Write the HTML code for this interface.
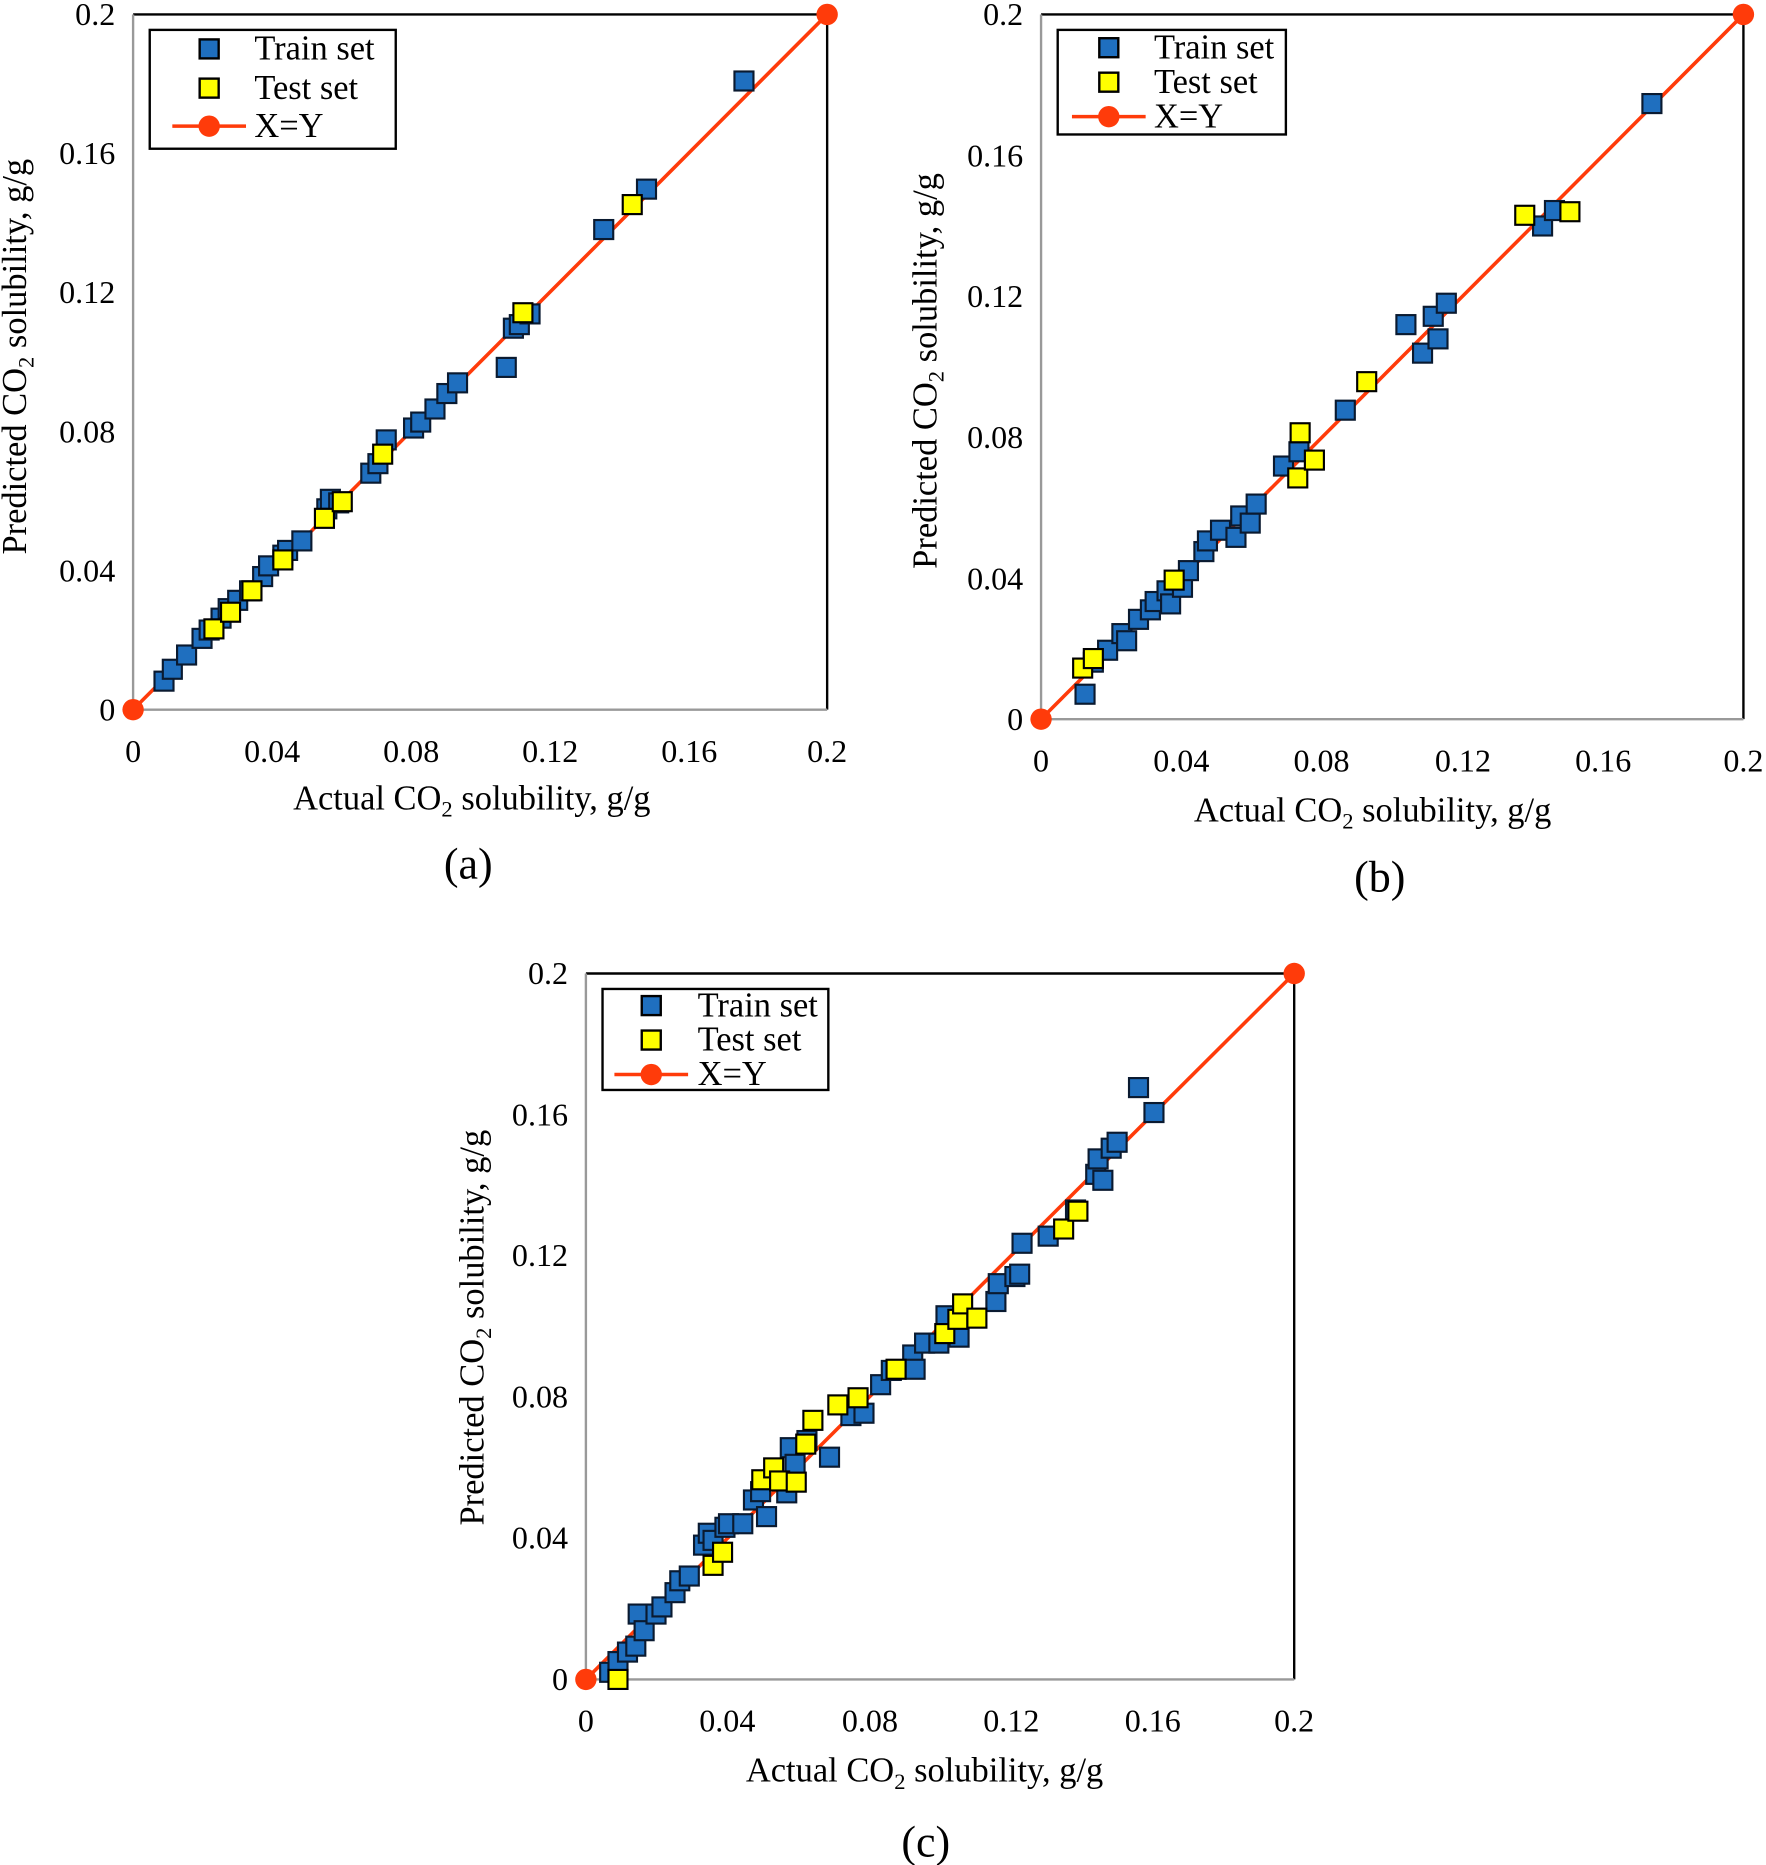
<!DOCTYPE html>
<html><head><meta charset="utf-8"><style>
html,body{margin:0;padding:0;background:#fff}
svg{display:block}
text{font-family:"Liberation Serif",serif;fill:#000}
</style></head><body>
<svg id="s" width="1766" height="1865" viewBox="0 0 1486 1569" xmlns="http://www.w3.org/2000/svg">
<rect width="1486" height="1569" fill="#fff"/>
<!-- plot a -->
<g>
<line x1="112" y1="12" x2="696" y2="12" stroke="#000" stroke-width="2"/>
<line x1="696" y1="12" x2="696" y2="597" stroke="#000" stroke-width="2"/>
<line x1="112" y1="12" x2="112" y2="597" stroke="#999" stroke-width="2"/>
<line x1="112" y1="597" x2="696" y2="597" stroke="#999" stroke-width="2"/>
<g font-size="27" text-anchor="end">
<text x="97" y="606">0</text><text x="97" y="489">0.04</text><text x="97" y="372">0.08</text><text x="97" y="255">0.12</text><text x="97" y="138">0.16</text><text x="97" y="21">0.2</text></g>
<g font-size="27" text-anchor="middle">
<text x="112" y="641">0</text><text x="229" y="641">0.04</text><text x="346" y="641">0.08</text><text x="463" y="641">0.12</text><text x="580" y="641">0.16</text><text x="696" y="641">0.2</text></g>
<text x="397" y="681" font-size="29" text-anchor="middle">Actual CO<tspan font-size="19" dy="6">2</tspan><tspan dy="-6"> solubility, g/g</tspan></text>
<text transform="translate(22,300) rotate(-90)" font-size="29" text-anchor="middle">Predicted CO<tspan font-size="19" dy="6">2</tspan><tspan dy="-6"> solubility, g/g</tspan></text>
<text x="394" y="739" font-size="37" text-anchor="middle">(a)</text>
<g id="pa"></g>
<rect x="126" y="25" width="207" height="100" fill="#fff" stroke="#000" stroke-width="2"/>
<rect x="168" y="33" width="16" height="16" fill="#1f6fbf" stroke="#000" stroke-width="2"/>
<rect x="168" y="66" width="16" height="16" fill="#ffff00" stroke="#000" stroke-width="2"/>
<line x1="145" y1="106" x2="207" y2="106" stroke="#ff3b0a" stroke-width="3"/><circle cx="176" cy="106" r="9" fill="#ff3b0a"/>
<g font-size="29"><text x="214" y="50">Train set</text><text x="214" y="83">Test set</text><text x="214" y="115">X=Y</text></g>
</g>
<!-- plot b -->
<g>
<line x1="876" y1="12" x2="1467" y2="12" stroke="#000" stroke-width="2"/>
<line x1="1467" y1="12" x2="1467" y2="605" stroke="#000" stroke-width="2"/>
<line x1="876" y1="12" x2="876" y2="605" stroke="#999" stroke-width="2"/>
<line x1="876" y1="605" x2="1467" y2="605" stroke="#999" stroke-width="2"/>
<g font-size="27" text-anchor="end">
<text x="861" y="614">0</text><text x="861" y="496">0.04</text><text x="861" y="377">0.08</text><text x="861" y="258">0.12</text><text x="861" y="140">0.16</text><text x="861" y="21">0.2</text></g>
<g font-size="27" text-anchor="middle">
<text x="876" y="649">0</text><text x="994" y="649">0.04</text><text x="1112" y="649">0.08</text><text x="1231" y="649">0.12</text><text x="1349" y="649">0.16</text><text x="1467" y="649">0.2</text></g>
<text x="1155" y="691" font-size="29" text-anchor="middle">Actual CO<tspan font-size="19" dy="6">2</tspan><tspan dy="-6"> solubility, g/g</tspan></text>
<text transform="translate(788,312) rotate(-90)" font-size="29" text-anchor="middle">Predicted CO<tspan font-size="19" dy="6">2</tspan><tspan dy="-6"> solubility, g/g</tspan></text>
<text x="1161" y="750" font-size="37" text-anchor="middle">(b)</text>
<g id="pb"></g>
<rect x="890" y="25" width="192" height="88" fill="#fff" stroke="#000" stroke-width="2"/>
<rect x="925" y="32" width="16" height="16" fill="#1f6fbf" stroke="#000" stroke-width="2"/>
<rect x="925" y="61" width="16" height="16" fill="#ffff00" stroke="#000" stroke-width="2"/>
<line x1="902" y1="98" x2="964" y2="98" stroke="#ff3b0a" stroke-width="3"/><circle cx="933" cy="98" r="9" fill="#ff3b0a"/>
<g font-size="29"><text x="971" y="49">Train set</text><text x="971" y="78">Test set</text><text x="971" y="107">X=Y</text></g>
</g>
<!-- plot c -->
<g>
<line x1="493" y1="819" x2="1089" y2="819" stroke="#000" stroke-width="2"/>
<line x1="1089" y1="819" x2="1089" y2="1413" stroke="#000" stroke-width="2"/>
<line x1="493" y1="819" x2="493" y2="1413" stroke="#999" stroke-width="2"/>
<line x1="493" y1="1413" x2="1089" y2="1413" stroke="#999" stroke-width="2"/>
<g font-size="27" text-anchor="end">
<text x="478" y="1422">0</text><text x="478" y="1303">0.04</text><text x="478" y="1184">0.08</text><text x="478" y="1065">0.12</text><text x="478" y="947">0.16</text><text x="478" y="828">0.2</text></g>
<g font-size="27" text-anchor="middle">
<text x="493" y="1457">0</text><text x="612" y="1457">0.04</text><text x="732" y="1457">0.08</text><text x="851" y="1457">0.12</text><text x="970" y="1457">0.16</text><text x="1089" y="1457">0.2</text></g>
<text x="778" y="1499" font-size="29" text-anchor="middle">Actual CO<tspan font-size="19" dy="6">2</tspan><tspan dy="-6"> solubility, g/g</tspan></text>
<text transform="translate(407,1117) rotate(-90)" font-size="29" text-anchor="middle">Predicted CO<tspan font-size="19" dy="6">2</tspan><tspan dy="-6"> solubility, g/g</tspan></text>
<text x="779" y="1562" font-size="37" text-anchor="middle">(c)</text>
<g id="pc"></g>
<rect x="507" y="832" width="190" height="85" fill="#fff" stroke="#000" stroke-width="2"/>
<rect x="540" y="838" width="16" height="16" fill="#1f6fbf" stroke="#000" stroke-width="2"/>
<rect x="540" y="867" width="16" height="16" fill="#ffff00" stroke="#000" stroke-width="2"/>
<line x1="517" y1="904" x2="579" y2="904" stroke="#ff3b0a" stroke-width="3"/><circle cx="548" cy="904" r="9" fill="#ff3b0a"/>
<g font-size="29"><text x="587" y="855">Train set</text><text x="587" y="884">Test set</text><text x="587" y="913">X=Y</text></g>
</g>
</svg>
<script>
function draw(id,x0,y0,x1,y1,tr,te){
 var g=document.getElementById(id),s='';
 s+='<line x1="'+x0+'" y1="'+y0+'" x2="'+x1+'" y2="'+y1+'" stroke="#ff3b0a" stroke-width="3"/>';
 tr.forEach(function(p){s+='<rect x="'+(p[0]-8)+'" y="'+(p[1]-8)+'" width="16" height="16" fill="#1f6fbf" stroke="#0a1a30" stroke-width="1.8"/>';});
 te.forEach(function(p){s+='<rect x="'+(p[0]-8)+'" y="'+(p[1]-8)+'" width="16" height="16" fill="#ffff00" stroke="#000" stroke-width="1.8"/>';});
 s+='<circle cx="'+x0+'" cy="'+y0+'" r="9" fill="#ff3b0a"/><circle cx="'+x1+'" cy="'+y1+'" r="9" fill="#ff3b0a"/>';
 g.innerHTML=s;
}
draw('pa',112,597,696,12,
[[138,573],[145,563],[157,551],[170,537],[176,530],[186,520],[192,512],[200,505],[210,497],[221,485],[226,476],[238,467],[242,463],[254,455],[275,428],[278,420],[285,423],[312,398],[318,390],[325,370],[348,360],[354,355],[366,344],[376,331],[385,322],[426,309],[432,276],[437,273],[446,264],[508,193],[544,159],[626,68]],
[[180,529],[194,515],[212,497],[238,471],[273,436],[288,422],[322,382],[440,263],[532,172]]);
draw('pb',876,605,1467,12,
[[913,584],[920,557],[932,547],[944,533],[948,539],[958,521],[968,513],[972,506],[982,497],[985,508],[995,494],[1000,480],[1013,464],[1016,455],[1027,446],[1040,452],[1044,434],[1052,440],[1057,424],[1080,392],[1093,380],[1132,345],[1183,273],[1197,297],[1206,266],[1210,285],[1217,255],[1298,190],[1308,177],[1390,87]],
[[911,562],[920,554],[988,488],[1092,402],[1094,364],[1106,387],[1150,321],[1283,181],[1321,178]]);
draw('pc',493,1413,1089,819,
[[513,1407],[520,1398],[528,1390],[535,1385],[537,1358],[542,1372],[552,1358],[557,1352],[568,1340],[572,1330],[580,1326],[592,1300],[596,1290],[600,1296],[610,1285],[613,1282],[625,1282],[634,1262],[645,1276],[640,1255],[662,1256],[665,1218],[669,1232],[679,1212],[698,1226],[716,1191],[727,1189],[741,1165],[750,1153],[768,1140],[770,1152],[778,1130],[790,1130],[796,1107],[807,1125],[838,1095],[840,1080],[854,1074],[858,1072],[860,1046],[882,1040],[905,1018],[922,988],[928,993],[924,975],[935,966],[940,961],[958,915],[971,936]],
[[520,1413],[600,1317],[608,1306],[641,1245],[651,1235],[656,1246],[670,1247],[678,1215],[684,1195],[705,1182],[722,1176],[754,1152],[795,1122],[806,1110],[810,1097],[822,1109],[895,1034],[907,1019]]);
</script>
</body></html>
